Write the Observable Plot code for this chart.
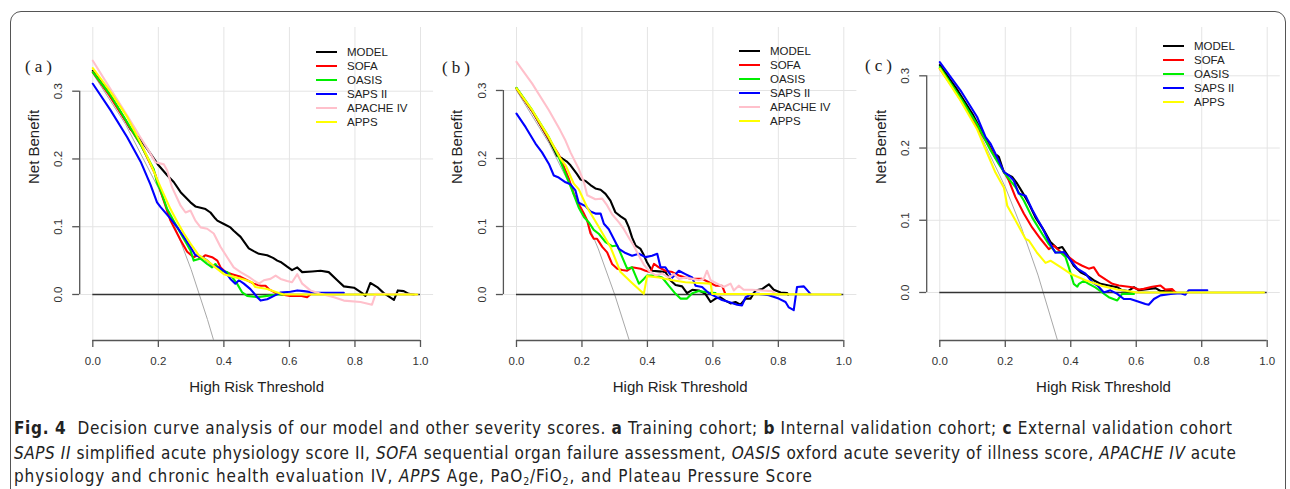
<!DOCTYPE html>
<html><head><meta charset="utf-8">
<script src="https://cdn.jsdelivr.net/npm/d3@7"></script>
<script src="https://cdn.jsdelivr.net/npm/@observablehq/plot@0.6"></script>
<style>
html,body{margin:0;padding:0;background:#fff;}
#root{position:relative;width:1290px;height:489px;overflow:hidden;font-family:"Liberation Sans",Arial,sans-serif;}
.frame{position:absolute;left:10px;top:11px;width:1276px;height:530px;border:1.3px solid #555;border-radius:11px;box-sizing:border-box;}
.panel{position:absolute;top:0;}
.legend{position:absolute;font-size:11.5px;color:#222;}
.legend .row{position:absolute;left:0;height:14px;line-height:14px;white-space:nowrap;}
.legend .sw{position:absolute;left:0;top:6px;width:21px;height:2px;}
.legend .lb{position:absolute;left:31px;top:0;}
.tag{position:absolute;font-family:"Liberation Serif","DejaVu Serif",serif;font-size:17px;letter-spacing:4px;color:#222;line-height:20px;white-space:nowrap;}
.cap{position:absolute;left:0;top:0;}
</style></head><body><div id="root"></div>
<script>
// ---------- data ----------
const seriesNames = ["MODEL", "SOFA", "OASIS", "SAPS II", "APACHE IV", "APPS"];
const seriesColors = ["#000000", "#ff0000", "#00ee00", "#0000ff", "#ffc0cb", "#ffff00"];
const xTicks = [0, 0.2, 0.4, 0.6, 0.8, 1.0];
const yTicks = [0, 0.1, 0.2, 0.3];
const panelTags = ["(a)", "(b)", "(c)"];
const xTitle = "High Risk Threshold";
const yTitle = "Net Benefit";

// (a) Training cohort
const a_MODEL = [[0,0.330],[0.05,0.297],[0.1,0.257],[0.115,0.244],[0.146,0.228],[0.166,0.215],[0.2,0.191],[0.227,0.176],[0.247,0.166],[0.268,0.151],[0.298,0.136],[0.313,0.130],[0.329,0.128],[0.344,0.126],[0.359,0.121],[0.374,0.112],[0.38,0.109],[0.4,0.104],[0.42,0.099],[0.43,0.094],[0.451,0.085],[0.476,0.068],[0.491,0.064],[0.507,0.060],[0.532,0.058],[0.55,0.054],[0.563,0.050],[0.573,0.048],[0.593,0.041],[0.608,0.036],[0.624,0.040],[0.639,0.033],[0.669,0.034],[0.695,0.035],[0.72,0.033],[0.746,0.021],[0.766,0.012],[0.797,0.010],[0.822,0.002],[0.832,-0.002],[0.847,0.017],[0.868,0.011],[0.888,0.002],[0.919,-0.008],[0.931,0.006],[0.949,0.005],[0.964,0.001],[0.98,0]];
const a_SOFA = [[0,0.328],[0.05,0.294],[0.1,0.256],[0.15,0.218],[0.19,0.178],[0.207,0.152],[0.237,0.109],[0.268,0.080],[0.288,0.063],[0.308,0.055],[0.319,0.058],[0.329,0.053],[0.344,0.058],[0.364,0.055],[0.38,0.050],[0.39,0.040],[0.405,0.033],[0.425,0.030],[0.451,0.026],[0.471,0.021],[0.491,0.016],[0.512,0.013],[0.527,0.013],[0.537,0.008],[0.563,0.001],[0.603,-0.002],[0.634,-0.002],[0.654,-0.004],[0.664,0]];
const a_OASIS = [[0,0.328],[0.054,0.294],[0.105,0.254],[0.145,0.222],[0.186,0.185],[0.196,0.165],[0.206,0.155],[0.227,0.126],[0.258,0.099],[0.278,0.082],[0.298,0.065],[0.308,0.050],[0.329,0.053],[0.349,0.045],[0.364,0.040],[0.374,0.045],[0.39,0.035],[0.41,0.033],[0.425,0.026],[0.44,0.016],[0.456,0.003],[0.471,-0.002],[0.502,-0.004],[0.532,-0.002],[0.563,0],[0.583,0]];
const a_SAPS = [[0,0.311],[0.054,0.272],[0.105,0.232],[0.146,0.196],[0.176,0.162],[0.196,0.136],[0.207,0.129],[0.237,0.112],[0.258,0.099],[0.278,0.085],[0.298,0.070],[0.313,0.058],[0.334,0.055],[0.349,0.050],[0.364,0.043],[0.385,0.040],[0.405,0.033],[0.42,0.023],[0.435,0.016],[0.446,0.021],[0.461,0.016],[0.481,0.008],[0.502,-0.004],[0.512,-0.009],[0.532,-0.007],[0.553,-0.002],[0.573,0.003],[0.603,0.004],[0.624,0.006],[0.644,0.005],[0.674,0.003],[0.766,0.0025]];
const a_APACHE = [[0,0.345],[0.054,0.303],[0.105,0.264],[0.145,0.232],[0.171,0.212],[0.191,0.195],[0.217,0.192],[0.227,0.183],[0.242,0.158],[0.268,0.131],[0.283,0.121],[0.298,0.124],[0.313,0.109],[0.329,0.099],[0.349,0.097],[0.369,0.090],[0.39,0.070],[0.41,0.055],[0.43,0.040],[0.451,0.033],[0.476,0.026],[0.491,0.021],[0.507,0.016],[0.522,0.021],[0.542,0.023],[0.558,0.028],[0.573,0.023],[0.593,0.020],[0.608,0.018],[0.624,0.030],[0.639,0.016],[0.664,0.006],[0.695,0.001],[0.736,-0.004],[0.766,-0.009],[0.817,-0.011],[0.852,-0.015],[0.863,0.001],[0.99,0]];
const a_APPS = [[0,0.334],[0.054,0.299],[0.105,0.262],[0.146,0.224],[0.176,0.193],[0.207,0.158],[0.237,0.126],[0.258,0.107],[0.278,0.090],[0.298,0.075],[0.323,0.058],[0.349,0.050],[0.374,0.040],[0.40,0.030],[0.43,0.026],[0.461,0.022],[0.486,0.018],[0.496,0.011],[0.532,0.008],[0.563,0.003],[0.583,0],[0.99,0]];
const a_ALL = [[0,0.326],[0.1,0.251],[0.2,0.157],[0.25,0.101],[0.3,0.037],[0.35,-0.037],[0.369,-0.068]];

// (b) Internal validation cohort
const b_MODEL = [[0,0.303],[0.05,0.268],[0.099,0.228],[0.114,0.214],[0.124,0.204],[0.14,0.200],[0.155,0.195],[0.165,0.190],[0.185,0.177],[0.196,0.169],[0.211,0.167],[0.226,0.161],[0.241,0.156],[0.257,0.154],[0.272,0.148],[0.287,0.138],[0.302,0.121],[0.318,0.115],[0.333,0.110],[0.343,0.099],[0.353,0.084],[0.364,0.072],[0.379,0.067],[0.389,0.058],[0.399,0.047],[0.414,0.035],[0.435,0.034],[0.455,0.033],[0.47,0.021],[0.486,0.014],[0.506,0.012],[0.521,0.002],[0.537,0.007],[0.557,0.006],[0.577,0.001],[0.593,-0.011],[0.608,-0.006],[0.623,-0.004],[0.638,-0.009],[0.654,-0.013],[0.669,-0.011],[0.684,-0.015],[0.7,-0.006],[0.715,-0.006],[0.73,0.006],[0.75,0.008],[0.771,0.015],[0.786,0.007],[0.807,0.003],[0.827,0.002],[0.83,0]];
const b_SOFA = [[0,0.303],[0.05,0.268],[0.1,0.228],[0.13,0.205],[0.16,0.170],[0.175,0.148],[0.19,0.133],[0.205,0.120],[0.216,0.109],[0.226,0.090],[0.236,0.082],[0.246,0.082],[0.262,0.070],[0.277,0.062],[0.292,0.045],[0.308,0.038],[0.323,0.036],[0.338,0.035],[0.353,0.040],[0.379,0.038],[0.394,0.035],[0.409,0.033],[0.42,0.045],[0.435,0.040],[0.455,0.035],[0.476,0.033],[0.496,0.028],[0.516,0.025],[0.537,0.023],[0.567,0.023],[0.588,0.018],[0.608,0.013],[0.628,0.013],[0.638,0.001]];
const b_OASIS = [[0,0.304],[0.048,0.271],[0.099,0.231],[0.129,0.202],[0.15,0.177],[0.17,0.153],[0.19,0.128],[0.206,0.114],[0.221,0.106],[0.236,0.095],[0.252,0.089],[0.272,0.077],[0.292,0.071],[0.308,0.072],[0.323,0.055],[0.338,0.038],[0.353,0.040],[0.374,0.016],[0.389,0.023],[0.399,0.028],[0.425,0.028],[0.445,0.025],[0.465,0.013],[0.486,0.001],[0.501,-0.006],[0.521,-0.006],[0.537,0.002],[0.557,0.005],[0.588,0.003],[0.608,0.002]];
const b_SAPS = [[0,0.266],[0.028,0.246],[0.058,0.222],[0.078,0.209],[0.099,0.192],[0.114,0.175],[0.129,0.172],[0.15,0.165],[0.165,0.162],[0.18,0.153],[0.19,0.135],[0.211,0.130],[0.226,0.122],[0.241,0.119],[0.257,0.119],[0.267,0.104],[0.282,0.096],[0.297,0.082],[0.313,0.067],[0.333,0.061],[0.353,0.057],[0.374,0.060],[0.394,0.055],[0.414,0.057],[0.43,0.060],[0.44,0.040],[0.455,0.040],[0.476,0.025],[0.496,0.035],[0.516,0.030],[0.537,0.025],[0.547,0.013],[0.567,0.011],[0.588,0.002],[0.608,-0.003],[0.628,-0.008],[0.649,-0.011],[0.674,-0.015],[0.689,-0.016],[0.7,-0.004],[0.72,0.001],[0.74,0.001],[0.771,-0.001],[0.801,-0.006],[0.822,-0.011],[0.832,-0.019],[0.847,-0.023],[0.857,0.011],[0.878,0.012],[0.898,0.001]];
const b_APACHE = [[0,0.342],[0.048,0.31],[0.099,0.271],[0.134,0.241],[0.15,0.226],[0.165,0.209],[0.19,0.185],[0.206,0.165],[0.216,0.146],[0.241,0.140],[0.262,0.141],[0.277,0.131],[0.292,0.118],[0.313,0.106],[0.328,0.096],[0.345,0.082],[0.358,0.072],[0.374,0.057],[0.389,0.044],[0.404,0.035],[0.425,0.028],[0.445,0.031],[0.465,0.025],[0.481,0.030],[0.496,0.023],[0.516,0.025],[0.537,0.023],[0.557,0.021],[0.572,0.023],[0.582,0.035],[0.593,0.021],[0.613,0.016],[0.633,0.011],[0.654,0.016],[0.664,0.006],[0.679,0.013],[0.694,0.007],[0.72,0.007],[0.75,0.006],[0.781,0.005],[0.791,0.001]];
const b_APPS = [[0,0.303],[0.048,0.271],[0.099,0.231],[0.134,0.200],[0.15,0.190],[0.175,0.163],[0.19,0.155],[0.216,0.128],[0.252,0.099],[0.287,0.070],[0.318,0.033],[0.353,0.017],[0.389,0.001],[0.399,0.027],[0.435,0.025],[0.476,0.021],[0.516,0.018],[0.557,0.017],[0.593,0.016],[0.598,0.001],[0.99,0]];
const b_ALL = [[0,0.300],[0.1,0.222],[0.2,0.125],[0.25,0.067],[0.3,0.0],[0.345,-0.068]];

// (c) External validation cohort
const c_MODEL = [[0,0.315],[0.05,0.283],[0.1,0.247],[0.134,0.218],[0.155,0.200],[0.17,0.187],[0.175,0.190],[0.18,0.188],[0.196,0.166],[0.221,0.160],[0.236,0.151],[0.252,0.139],[0.272,0.123],[0.292,0.104],[0.318,0.086],[0.338,0.070],[0.359,0.061],[0.374,0.063],[0.394,0.049],[0.409,0.037],[0.43,0.028],[0.45,0.0235],[0.47,0.017],[0.491,0.012],[0.516,0.0097],[0.542,0.0073],[0.557,0.003],[0.575,0.002],[0.593,0.0073],[0.608,0.003],[0.659,0.006],[0.674,0.002],[0.705,0.002],[0.72,0]];
const c_SOFA = [[0,0.310],[0.05,0.277],[0.1,0.240],[0.14,0.210],[0.17,0.187],[0.19,0.172],[0.211,0.155],[0.231,0.132],[0.257,0.109],[0.282,0.090],[0.308,0.074],[0.333,0.060],[0.348,0.065],[0.369,0.056],[0.394,0.049],[0.414,0.042],[0.435,0.037],[0.455,0.033],[0.47,0.035],[0.486,0.024],[0.506,0.018],[0.527,0.012],[0.547,0.0097],[0.588,0.0073],[0.608,0.004],[0.623,0.005],[0.649,0.008],[0.674,0.0097],[0.689,0.004],[0.71,0.0046],[0.72,0]];
const c_OASIS = [[0,0.312],[0.063,0.270],[0.114,0.233],[0.155,0.197],[0.18,0.178],[0.2,0.164],[0.231,0.146],[0.257,0.127],[0.282,0.104],[0.313,0.081],[0.333,0.067],[0.353,0.056],[0.37,0.055],[0.384,0.049],[0.394,0.035],[0.409,0.012],[0.42,0.008],[0.425,0.012],[0.44,0.016],[0.455,0.012],[0.475,0.007],[0.496,0.0],[0.516,-0.0065],[0.542,-0.011],[0.557,-0.002],[0.593,-0.002]];
const c_SAPS = [[0,0.319],[0.063,0.280],[0.114,0.243],[0.14,0.215],[0.155,0.206],[0.17,0.192],[0.196,0.167],[0.216,0.160],[0.226,0.155],[0.241,0.137],[0.262,0.134],[0.282,0.115],[0.3,0.100],[0.313,0.090],[0.333,0.071],[0.353,0.055],[0.379,0.056],[0.399,0.045],[0.42,0.033],[0.445,0.026],[0.466,0.014],[0.481,0.010],[0.501,0.0],[0.521,0.003],[0.542,-0.002],[0.562,-0.009],[0.582,-0.009],[0.603,-0.012],[0.628,-0.016],[0.638,-0.017],[0.654,-0.009],[0.674,-0.004],[0.705,-0.002],[0.735,-0.001],[0.75,-0.003],[0.76,0.003],[0.817,0.003]];
const c_APPS = [[0,0.310],[0.063,0.266],[0.114,0.226],[0.14,0.198],[0.17,0.166],[0.196,0.145],[0.206,0.120],[0.231,0.100],[0.262,0.074],[0.272,0.072],[0.297,0.055],[0.323,0.041],[0.338,0.044],[0.369,0.035],[0.399,0.026],[0.445,0.017],[0.496,0.009],[0.542,0.004],[0.588,0.001],[0.603,0],[0.99,0]];
const c_ALL = [[0,0.317],[0.1,0.241],[0.2,0.146],[0.25,0.089],[0.3,0.024],[0.36,-0.067]];

const captionLines = [
  [["Fig. 4","b"],["  Decision curve analysis of our model and other severity scores. ",""],["a","b"],[" Training cohort; ",""],["b","b"],[" Internal validation cohort; ",""],["c","b"],[" External validation cohort",""]],
  [["SAPS II","i"],[" simplified acute physiology score II, ",""],["SOFA","i"],[" sequential organ failure assessment, ",""],["OASIS","i"],[" oxford acute severity of illness score, ",""],["APACHE IV","i"],[" acute",""]],
  [["physiology and chronic health evaluation IV, ",""],["APPS","i"],[" Age, PaO",""],["2","sub"],["/FiO",""],["2","sub"],[", and Plateau Pressure Score",""]]
];

// ---------- layout ----------
const panels = [
  {tag: panelTags[0], left: 0, width: 440, mL: 79.2, mR: 6.9, yDomain: [-0.0679, 0.394],
   series: [a_MODEL, a_SOFA, a_OASIS, a_SAPS, a_APACHE, a_APPS], names: seriesNames, all: a_ALL,
   legend: {x: 316, y: 44.7}, tagPos: {x: 25, y: 57}},
  {tag: panelTags[1], left: 425, width: 440, mL: 77.9, mR: 8.6, yDomain: [-0.0676, 0.3926],
   series: [b_MODEL, b_SOFA, b_OASIS, b_SAPS, b_APACHE, b_APPS], names: seriesNames, all: b_ALL,
   legend: {x: 739, y: 43.7}, tagPos: {x: 442, y: 58}},
  {tag: panelTags[2], left: 850, width: 440, mL: 76.2, mR: 10.2, yDomain: [-0.0665, 0.3669],
   series: [c_MODEL, c_SOFA, c_OASIS, c_SAPS, c_APPS], names: ["MODEL","SOFA","OASIS","SAPS II","APPS"], all: c_ALL,
   legend: {x: 1163, y: 38.7}, tagPos: {x: 865, y: 56}}
];

const root = document.getElementById("root");
const frame = document.createElement("div"); frame.className = "frame"; root.appendChild(frame);
const fmt = d3.format(".1f");
const colorOf = n => seriesColors[seriesNames.indexOf(n)];

for (const p of panels) {
  const xd = [-0.04, 1.04];
  const marks = [
    Plot.ruleX(xTicks, {stroke: "#e4e4e4", strokeWidth: 1}),
    Plot.ruleY(yTicks, {stroke: "#e4e4e4", strokeWidth: 1}),
    Plot.ruleX([xd[0]], {y1: yTicks[0], y2: yTicks[yTicks.length - 1], stroke: "#555", strokeWidth: 1.3}),
    Plot.ruleY([p.yDomain[0]], {x1: xTicks[0], x2: xTicks[xTicks.length - 1], stroke: "#555", strokeWidth: 1.3}),
    Plot.axisX({ticks: xTicks, tickSize: 7, tickFormat: () => "", color: "#555", label: null, strokeWidth: 1.3}),
    Plot.axisY({ticks: yTicks, tickSize: 7, tickFormat: () => "", color: "#555", label: null, strokeWidth: 1.3}),
    Plot.text(xTicks, {x: d => d, frameAnchor: "bottom", dy: 21, text: d => fmt(d), fontSize: 11.5, fill: "#333", lineAnchor: "middle"}),
    Plot.text(yTicks, {y: d => d, frameAnchor: "left", dx: -21, rotate: -90, text: d => fmt(d), fontSize: 11.5, fill: "#333", lineAnchor: "middle", textAnchor: "middle"}),
    Plot.text([xTitle], {frameAnchor: "bottom", dy: 47, fontSize: 15, fill: "#222", lineAnchor: "middle"}),
    Plot.text([yTitle], {frameAnchor: "left", dx: -46, rotate: -90, fontSize: 15, fill: "#222", lineAnchor: "middle"}),
    Plot.line(p.all, {x: d => d[0], y: d => d[1], stroke: "#a8a8a8", strokeWidth: 1, clip: true}),
    Plot.ruleY([0], {x1: 0, x2: 1, stroke: "#333", strokeWidth: 1.6})
  ];
  p.series.forEach((s, i) => {
    marks.push(Plot.line(s, {x: d => d[0], y: d => d[1], stroke: colorOf(p.names[i]), strokeWidth: 2.1}));
  });
  const svg = Plot.plot({
    width: p.width, height: 400,
    marginLeft: p.mL, marginRight: p.mR, marginTop: 27, marginBottom: 60,
    x: {domain: xd}, y: {domain: p.yDomain},
    style: {background: "transparent", overflow: "visible", fontFamily: "'Liberation Sans', Arial, sans-serif"},
    marks
  });
  const wrap = document.createElement("div");
  wrap.className = "panel"; wrap.style.left = p.left + "px";
  wrap.appendChild(svg); root.appendChild(wrap);

  // legend
  const lg = document.createElement("div");
  lg.className = "legend"; lg.style.left = p.legend.x + "px"; lg.style.top = p.legend.y + "px";
  p.names.forEach((n, i) => {
    const row = document.createElement("div"); row.className = "row"; row.style.top = (i * 14) + "px";
    const sw = document.createElement("div"); sw.className = "sw"; sw.style.background = colorOf(n);
    const lb = document.createElement("div"); lb.className = "lb"; lb.textContent = n;
    row.appendChild(sw); row.appendChild(lb); lg.appendChild(row);
  });
  root.appendChild(lg);

  const tg = document.createElement("div"); tg.className = "tag";
  tg.style.left = p.tagPos.x + "px"; tg.style.top = p.tagPos.y + "px"; tg.textContent = p.tag;
  root.appendChild(tg);
}

// caption
const capSvg = d3.select(root).append("svg").attr("class", "cap").attr("width", 1290).attr("height", 489);
const capLayout = [{y: 434, len: 1218}, {y: 458.5, len: 1222}, {y: 481.5, len: 798}];
captionLines.forEach((segs, li) => {
  const t = capSvg.append("text")
    .attr("x", 14).attr("y", capLayout[li].y)
    .attr("textLength", capLayout[li].len).attr("lengthAdjust", "spacing")
    .style("font-family", "'Liberation Sans Narrow','DejaVu Sans Condensed','Roboto',sans-serif")
    .style("font-size", "17px").style("fill", "#222").style("white-space", "pre");
  let shifted = false;
  segs.forEach(([txt, st]) => {
    const ts = t.append("tspan").text(txt);
    if (st === "b") ts.style("font-weight", "bold");
    if (st === "i") ts.style("font-style", "italic");
    if (st === "sub") { ts.attr("dy", 3).style("font-size", "10.5px"); shifted = true; }
    else if (shifted) { ts.attr("dy", -3); shifted = false; }
  });
});
</script></body></html>
